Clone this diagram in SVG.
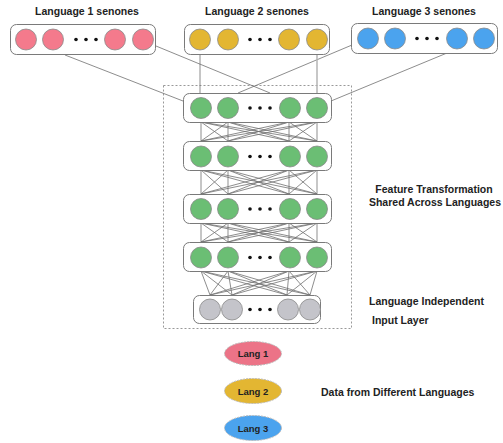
<svg xmlns="http://www.w3.org/2000/svg" width="503" height="443" viewBox="0 0 503 443">
<style>
text{font-family:"Liberation Sans",Arial,sans-serif;font-weight:bold;fill:#222;}
.t{font-size:10.5px;text-anchor:middle;}
.l{font-size:10.5px;}
.box{fill:#fff;stroke:#7a7a7a;stroke-width:1;}
.c{stroke:#888;stroke-width:0.8;}
.pk{fill:#F47A8C;}
.yl{fill:#E3B632;}
.bl{fill:#4BA3EE;}
.gr{fill:#6BBE74;}
.gy{fill:#C4C4CA;}
.dot{fill:#111;}
.cn line{stroke:#707070;stroke-width:0.8;}
.cn line.lt{stroke:#b5b5b5;stroke-width:1.5;}
.el{stroke:#bbb;stroke-width:1;stroke-dasharray:2 1;}
.lg{font-size:9.5px;text-anchor:middle;}
</style>
<defs>
<g id="dots"><circle cx="0" cy="0" r="1.8" class="dot"/><circle cx="10" cy="0" r="1.8" class="dot"/><circle cx="20" cy="0" r="1.8" class="dot"/></g>
</defs>
<rect x="163.5" y="85.5" width="188" height="243" fill="none" stroke="#999" stroke-width="1" stroke-dasharray="2 2"/>
<g id="connectors" class="cn">
<line x1="65" y1="55" x2="183" y2="101"/>
<line x1="156" y1="46" x2="270" y2="93"/>
<line x1="352" y1="45" x2="238" y2="93"/>
<line x1="447" y1="53" x2="331" y2="101"/>
<line x1="200" y1="54" x2="200" y2="93"/>
<line class="lt" x1="317" y1="54" x2="317" y2="93"/>
<line x1="201" y1="122" x2="201" y2="141"/><line class="lt" x1="228" y1="122" x2="228" y2="141"/><line x1="289" y1="122" x2="289" y2="141"/><line class="lt" x1="317" y1="122" x2="317" y2="141"/>
<line x1="201" y1="122" x2="228" y2="141"/><line x1="228" y1="122" x2="201" y2="141"/><line x1="289" y1="122" x2="317" y2="141"/><line x1="317" y1="122" x2="289" y2="141"/>
<line x1="201" y1="122" x2="289" y2="141"/><line x1="201" y1="122" x2="317" y2="141"/><line x1="228" y1="122" x2="289" y2="141"/><line x1="228" y1="122" x2="317" y2="141"/>
<line x1="289" y1="122" x2="201" y2="141"/><line x1="317" y1="122" x2="201" y2="141"/><line x1="289" y1="122" x2="228" y2="141"/><line x1="317" y1="122" x2="228" y2="141"/>
<line x1="201" y1="170" x2="201" y2="194"/><line class="lt" x1="228" y1="170" x2="228" y2="194"/><line x1="289" y1="170" x2="289" y2="194"/><line class="lt" x1="317" y1="170" x2="317" y2="194"/>
<line x1="201" y1="170" x2="228" y2="194"/><line x1="228" y1="170" x2="201" y2="194"/><line x1="289" y1="170" x2="317" y2="194"/><line x1="317" y1="170" x2="289" y2="194"/>
<line x1="201" y1="170" x2="289" y2="194"/><line x1="201" y1="170" x2="317" y2="194"/><line x1="228" y1="170" x2="289" y2="194"/><line x1="228" y1="170" x2="317" y2="194"/>
<line x1="289" y1="170" x2="201" y2="194"/><line x1="317" y1="170" x2="201" y2="194"/><line x1="289" y1="170" x2="228" y2="194"/><line x1="317" y1="170" x2="228" y2="194"/>
<line x1="201" y1="223" x2="201" y2="242"/><line class="lt" x1="228" y1="223" x2="228" y2="242"/><line x1="289" y1="223" x2="289" y2="242"/><line class="lt" x1="317" y1="223" x2="317" y2="242"/>
<line x1="201" y1="223" x2="228" y2="242"/><line x1="228" y1="223" x2="201" y2="242"/><line x1="289" y1="223" x2="317" y2="242"/><line x1="317" y1="223" x2="289" y2="242"/>
<line x1="201" y1="223" x2="289" y2="242"/><line x1="201" y1="223" x2="317" y2="242"/><line x1="228" y1="223" x2="289" y2="242"/><line x1="228" y1="223" x2="317" y2="242"/>
<line x1="289" y1="223" x2="201" y2="242"/><line x1="317" y1="223" x2="201" y2="242"/><line x1="289" y1="223" x2="228" y2="242"/><line x1="317" y1="223" x2="228" y2="242"/>
<line x1="201" y1="271" x2="210" y2="295"/><line x1="228" y1="271" x2="232" y2="295"/><line x1="289" y1="271" x2="287" y2="295"/><line x1="317" y1="271" x2="310" y2="295"/>
<line x1="201" y1="271" x2="232" y2="295"/><line x1="228" y1="271" x2="210" y2="295"/><line x1="289" y1="271" x2="310" y2="295"/><line x1="317" y1="271" x2="287" y2="295"/>
<line x1="201" y1="271" x2="287" y2="295"/><line x1="201" y1="271" x2="310" y2="295"/><line x1="228" y1="271" x2="287" y2="295"/><line x1="228" y1="271" x2="310" y2="295"/>
<line x1="289" y1="271" x2="210" y2="295"/><line x1="317" y1="271" x2="210" y2="295"/><line x1="289" y1="271" x2="232" y2="295"/><line x1="317" y1="271" x2="232" y2="295"/>
</g>
<g id="lang1-senones">
<text class="t" x="87" y="15">Language 1 senones</text>
<rect class="box" x="10.5" y="24.5" width="145" height="30" rx="6"/>
<circle class="c pk" cx="26" cy="39.5" r="10.5"/><circle class="c pk" cx="53" cy="39.5" r="10.5"/>
<use href="#dots" x="76" y="39.5"/>
<circle class="c pk" cx="115" cy="39.5" r="10.5"/><circle class="c pk" cx="143" cy="39.5" r="10.5"/>
</g>
<g id="lang2-senones">
<text class="t" x="257" y="15">Language 2 senones</text>
<rect class="box" x="184.5" y="24.5" width="145" height="30" rx="6"/>
<circle class="c yl" cx="200" cy="39.5" r="10.5"/><circle class="c yl" cx="228" cy="39.5" r="10.5"/>
<use href="#dots" x="250" y="39.5"/>
<circle class="c yl" cx="289" cy="39.5" r="10.5"/><circle class="c yl" cx="317" cy="39.5" r="10.5"/>
</g>
<g id="lang3-senones">
<text class="t" x="424" y="15">Language 3 senones</text>
<rect class="box" x="351.5" y="23.5" width="146" height="30" rx="6"/>
<circle class="c bl" cx="368" cy="38.5" r="10.5"/><circle class="c bl" cx="395" cy="38.5" r="10.5"/>
<use href="#dots" x="417" y="38.5"/>
<circle class="c bl" cx="457" cy="38.5" r="10.5"/><circle class="c bl" cx="484" cy="38.5" r="10.5"/>
</g>
<g id="layer1">
<rect class="box" x="183.5" y="93.5" width="148" height="29" rx="6"/>
<circle class="c gr" cx="201" cy="108" r="10.5"/><circle class="c gr" cx="228" cy="108" r="10.5"/>
<use href="#dots" x="250" y="108"/>
<circle class="c gr" cx="290" cy="108" r="10.5"/><circle class="c gr" cx="317" cy="108" r="10.5"/>
</g>
<g id="layer2">
<rect class="box" x="183.5" y="141.5" width="148" height="29" rx="6"/>
<circle class="c gr" cx="201" cy="156.5" r="10.5"/><circle class="c gr" cx="228" cy="156.5" r="10.5"/>
<use href="#dots" x="250" y="156.5"/>
<circle class="c gr" cx="290" cy="156.5" r="10.5"/><circle class="c gr" cx="317" cy="156.5" r="10.5"/>
</g>
<g id="layer3">
<rect class="box" x="183.5" y="194.5" width="148" height="29" rx="6"/>
<circle class="c gr" cx="201" cy="209" r="10.5"/><circle class="c gr" cx="228" cy="209" r="10.5"/>
<use href="#dots" x="250" y="209"/>
<circle class="c gr" cx="290" cy="209" r="10.5"/><circle class="c gr" cx="317" cy="209" r="10.5"/>
</g>
<g id="layer4">
<rect class="box" x="183.5" y="242.5" width="148" height="29" rx="6"/>
<circle class="c gr" cx="201" cy="257.5" r="10.5"/><circle class="c gr" cx="228" cy="257.5" r="10.5"/>
<use href="#dots" x="250" y="257.5"/>
<circle class="c gr" cx="290" cy="257.5" r="10.5"/><circle class="c gr" cx="317" cy="257.5" r="10.5"/>
</g>
<g id="input-layer">
<rect class="box" x="193.5" y="295.5" width="127" height="28" rx="6"/>
<circle class="c gy" cx="210" cy="309.5" r="10.5"/><circle class="c gy" cx="232" cy="309.5" r="10.5"/>
<use href="#dots" x="250" y="309.5"/>
<circle class="c gy" cx="288" cy="309.5" r="10.5"/><circle class="c gy" cx="310" cy="309.5" r="10.5"/>
</g>
<g id="labels">
<text class="t" x="434" y="193">Feature Transformation</text>
<text class="t" x="435" y="206">Shared Across Languages</text>
<text class="l" x="369" y="305">Language Independent</text>
<text class="l" x="372" y="324">Input Layer</text>
<text class="l" x="321" y="396">Data from Different Languages</text>
</g>
<g id="lang1">
<ellipse class="el" cx="253" cy="353.5" rx="28.5" ry="12" fill="#EC7387"/>
<text class="lg" x="253" y="357">Lang 1</text>
</g>
<g id="lang2">
<ellipse class="el" cx="253" cy="391" rx="28.5" ry="12.5" fill="#E3B632"/>
<text class="lg" x="253" y="394.5">Lang 2</text>
</g>
<g id="lang3">
<ellipse class="el" cx="253" cy="428" rx="28.5" ry="12.5" fill="#4BA3EE"/>
<text class="lg" x="253" y="431.5">Lang 3</text>
</g>
</svg>
